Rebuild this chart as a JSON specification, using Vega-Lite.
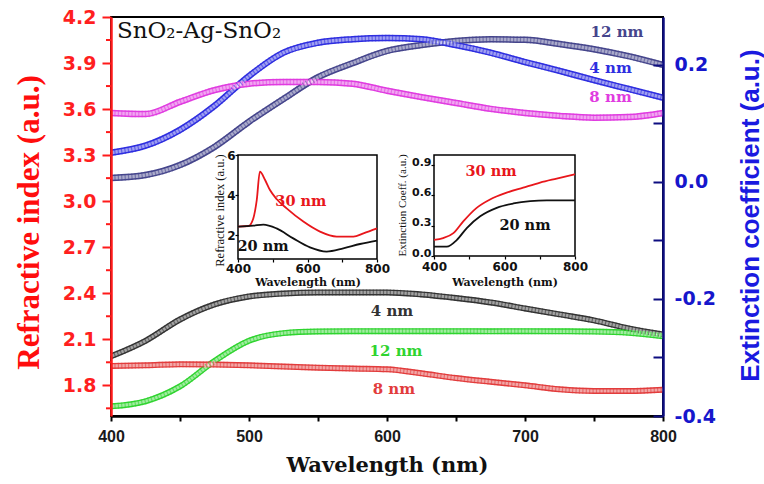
{
  "$schema": "https://vega.github.io/schema/vega-lite/v6.json",
  "width": 552,
  "height": 399,
  "autosize": {"type": "none"},
  "padding": {"left": 111, "top": 17, "right": 101, "bottom": 68},
  "background": "white",
  "config": {
    "view": {"stroke": "#000", "strokeWidth": 2},
    "axis": {"grid": false, "labelOverlap": false, "labelFlush": false}
  },
  "datasets": {
    "ri": [
      {"wl": 400, "n": 1.989, "series": "RI 4 nm"}, {"wl": 425, "n": 2.090, "series": "RI 4 nm"}, {"wl": 450, "n": 2.229, "series": "RI 4 nm"},
      {"wl": 475, "n": 2.327, "series": "RI 4 nm"}, {"wl": 500, "n": 2.379, "series": "RI 4 nm"}, {"wl": 525, "n": 2.398, "series": "RI 4 nm"},
      {"wl": 550, "n": 2.405, "series": "RI 4 nm"}, {"wl": 575, "n": 2.405, "series": "RI 4 nm"}, {"wl": 600, "n": 2.405, "series": "RI 4 nm"},
      {"wl": 625, "n": 2.392, "series": "RI 4 nm"}, {"wl": 650, "n": 2.369, "series": "RI 4 nm"}, {"wl": 675, "n": 2.340, "series": "RI 4 nm"},
      {"wl": 700, "n": 2.301, "series": "RI 4 nm"}, {"wl": 725, "n": 2.262, "series": "RI 4 nm"}, {"wl": 750, "n": 2.223, "series": "RI 4 nm"},
      {"wl": 775, "n": 2.171, "series": "RI 4 nm"}, {"wl": 800, "n": 2.132, "series": "RI 4 nm"},
      {"wl": 400, "n": 1.663, "series": "RI 12 nm"}, {"wl": 425, "n": 1.696, "series": "RI 12 nm"}, {"wl": 450, "n": 1.793, "series": "RI 12 nm"},
      {"wl": 475, "n": 1.958, "series": "RI 12 nm"}, {"wl": 500, "n": 2.090, "series": "RI 12 nm"}, {"wl": 525, "n": 2.140, "series": "RI 12 nm"},
      {"wl": 550, "n": 2.151, "series": "RI 12 nm"}, {"wl": 575, "n": 2.153, "series": "RI 12 nm"}, {"wl": 600, "n": 2.153, "series": "RI 12 nm"},
      {"wl": 625, "n": 2.153, "series": "RI 12 nm"}, {"wl": 650, "n": 2.153, "series": "RI 12 nm"}, {"wl": 675, "n": 2.152, "series": "RI 12 nm"},
      {"wl": 700, "n": 2.153, "series": "RI 12 nm"}, {"wl": 725, "n": 2.152, "series": "RI 12 nm"}, {"wl": 750, "n": 2.150, "series": "RI 12 nm"},
      {"wl": 775, "n": 2.142, "series": "RI 12 nm"}, {"wl": 800, "n": 2.119, "series": "RI 12 nm"},
      {"wl": 400, "n": 1.926, "series": "RI 8 nm"}, {"wl": 425, "n": 1.930, "series": "RI 8 nm"}, {"wl": 450, "n": 1.937, "series": "RI 8 nm"},
      {"wl": 475, "n": 1.935, "series": "RI 8 nm"}, {"wl": 500, "n": 1.930, "series": "RI 8 nm"}, {"wl": 525, "n": 1.922, "series": "RI 8 nm"},
      {"wl": 550, "n": 1.915, "series": "RI 8 nm"}, {"wl": 575, "n": 1.909, "series": "RI 8 nm"}, {"wl": 600, "n": 1.904, "series": "RI 8 nm"},
      {"wl": 625, "n": 1.878, "series": "RI 8 nm"}, {"wl": 650, "n": 1.847, "series": "RI 8 nm"}, {"wl": 675, "n": 1.823, "series": "RI 8 nm"},
      {"wl": 700, "n": 1.800, "series": "RI 8 nm"}, {"wl": 725, "n": 1.774, "series": "RI 8 nm"}, {"wl": 750, "n": 1.763, "series": "RI 8 nm"},
      {"wl": 775, "n": 1.763, "series": "RI 8 nm"}, {"wl": 800, "n": 1.771, "series": "RI 8 nm"}
    ],
    "ext": [
      {"wl": 400, "k": 0.007, "series": "EC 12 nm"}, {"wl": 425, "k": 0.012, "series": "EC 12 nm"}, {"wl": 450, "k": 0.029, "series": "EC 12 nm"},
      {"wl": 475, "k": 0.060, "series": "EC 12 nm"}, {"wl": 500, "k": 0.103, "series": "EC 12 nm"}, {"wl": 525, "k": 0.142, "series": "EC 12 nm"},
      {"wl": 550, "k": 0.179, "series": "EC 12 nm"}, {"wl": 575, "k": 0.203, "series": "EC 12 nm"}, {"wl": 600, "k": 0.224, "series": "EC 12 nm"},
      {"wl": 625, "k": 0.234, "series": "EC 12 nm"}, {"wl": 650, "k": 0.241, "series": "EC 12 nm"}, {"wl": 675, "k": 0.244, "series": "EC 12 nm"},
      {"wl": 700, "k": 0.243, "series": "EC 12 nm"}, {"wl": 725, "k": 0.236, "series": "EC 12 nm"}, {"wl": 750, "k": 0.227, "series": "EC 12 nm"},
      {"wl": 775, "k": 0.215, "series": "EC 12 nm"}, {"wl": 800, "k": 0.200, "series": "EC 12 nm"},
      {"wl": 400, "k": 0.050, "series": "EC 4 nm"}, {"wl": 425, "k": 0.062, "series": "EC 4 nm"}, {"wl": 450, "k": 0.089, "series": "EC 4 nm"},
      {"wl": 475, "k": 0.130, "series": "EC 4 nm"}, {"wl": 500, "k": 0.181, "series": "EC 4 nm"}, {"wl": 525, "k": 0.221, "series": "EC 4 nm"},
      {"wl": 550, "k": 0.238, "series": "EC 4 nm"}, {"wl": 575, "k": 0.244, "series": "EC 4 nm"}, {"wl": 600, "k": 0.246, "series": "EC 4 nm"},
      {"wl": 625, "k": 0.244, "series": "EC 4 nm"}, {"wl": 650, "k": 0.234, "series": "EC 4 nm"}, {"wl": 675, "k": 0.221, "series": "EC 4 nm"},
      {"wl": 700, "k": 0.205, "series": "EC 4 nm"}, {"wl": 725, "k": 0.190, "series": "EC 4 nm"}, {"wl": 750, "k": 0.174, "series": "EC 4 nm"},
      {"wl": 775, "k": 0.159, "series": "EC 4 nm"}, {"wl": 800, "k": 0.144, "series": "EC 4 nm"},
      {"wl": 400, "k": 0.118, "series": "EC 8 nm"}, {"wl": 425, "k": 0.116, "series": "EC 8 nm"}, {"wl": 450, "k": 0.137, "series": "EC 8 nm"},
      {"wl": 475, "k": 0.157, "series": "EC 8 nm"}, {"wl": 500, "k": 0.168, "series": "EC 8 nm"}, {"wl": 525, "k": 0.171, "series": "EC 8 nm"},
      {"wl": 550, "k": 0.171, "series": "EC 8 nm"}, {"wl": 575, "k": 0.168, "series": "EC 8 nm"}, {"wl": 600, "k": 0.156, "series": "EC 8 nm"},
      {"wl": 625, "k": 0.145, "series": "EC 8 nm"}, {"wl": 650, "k": 0.135, "series": "EC 8 nm"}, {"wl": 675, "k": 0.125, "series": "EC 8 nm"},
      {"wl": 700, "k": 0.118, "series": "EC 8 nm"}, {"wl": 725, "k": 0.113, "series": "EC 8 nm"}, {"wl": 750, "k": 0.110, "series": "EC 8 nm"},
      {"wl": 775, "k": 0.111, "series": "EC 8 nm"}, {"wl": 800, "k": 0.118, "series": "EC 8 nm"}
    ],
    "ri_minor": [
      {"n": 1.65}, {"n": 1.95}, {"n": 2.25}, {"n": 2.55}, {"n": 2.85}, {"n": 3.15}, {"n": 3.45}, {"n": 3.75}, {"n": 4.05}
    ],
    "ri_labels": [
      {"wl": 603.6, "n": 2.281, "series": "RI 4 nm", "thickness": "4 nm"},
      {"wl": 606.5, "n": 2.021, "series": "RI 12 nm", "thickness": "12 nm"},
      {"wl": 605, "n": 1.774, "series": "RI 8 nm", "thickness": "8 nm"}
    ],
    "ext_labels": [
      {"wl": 766.7, "k": 0.256, "series": "EC 12 nm", "thickness": "12 nm"},
      {"wl": 762, "k": 0.195, "series": "EC 4 nm", "thickness": "4 nm"},
      {"wl": 762, "k": 0.145, "series": "EC 8 nm", "thickness": "8 nm"}
    ],
    "inset_n": [
      {"wl": 400, "v": 2.42, "film": "30 nm"}, {"wl": 430, "v": 2.45, "film": "30 nm"}, {"wl": 444, "v": 2.83, "film": "30 nm"},
      {"wl": 454, "v": 3.75, "film": "30 nm"}, {"wl": 463, "v": 5.17, "film": "30 nm"}, {"wl": 478, "v": 4.75, "film": "30 nm"},
      {"wl": 492, "v": 4.25, "film": "30 nm"}, {"wl": 511, "v": 3.8, "film": "30 nm"}, {"wl": 540, "v": 3.33, "film": "30 nm"},
      {"wl": 588, "v": 2.67, "film": "30 nm"}, {"wl": 636, "v": 2.17, "film": "30 nm"}, {"wl": 684, "v": 1.92, "film": "30 nm"},
      {"wl": 732, "v": 1.92, "film": "30 nm"}, {"wl": 761, "v": 2.08, "film": "30 nm"}, {"wl": 800, "v": 2.33, "film": "30 nm"},
      {"wl": 400, "v": 2.42, "film": "20 nm"}, {"wl": 444, "v": 2.47, "film": "20 nm"}, {"wl": 473, "v": 2.52, "film": "20 nm"},
      {"wl": 511, "v": 2.33, "film": "20 nm"}, {"wl": 559, "v": 1.83, "film": "20 nm"}, {"wl": 607, "v": 1.38, "film": "20 nm"},
      {"wl": 655, "v": 1.17, "film": "20 nm"}, {"wl": 703, "v": 1.33, "film": "20 nm"}, {"wl": 751, "v": 1.55, "film": "20 nm"},
      {"wl": 800, "v": 1.72, "film": "20 nm"}
    ],
    "inset_k": [
      {"wl": 400, "v": 0.16, "film": "30 nm"}, {"wl": 426, "v": 0.177, "film": "30 nm"}, {"wl": 455, "v": 0.227, "film": "30 nm"},
      {"wl": 483, "v": 0.343, "film": "30 nm"}, {"wl": 521, "v": 0.477, "film": "30 nm"}, {"wl": 559, "v": 0.56, "film": "30 nm"},
      {"wl": 606, "v": 0.627, "film": "30 nm"}, {"wl": 653, "v": 0.677, "film": "30 nm"}, {"wl": 701, "v": 0.727, "film": "30 nm"},
      {"wl": 748, "v": 0.767, "film": "30 nm"}, {"wl": 800, "v": 0.81, "film": "30 nm"},
      {"wl": 400, "v": 0.093, "film": "20 nm"}, {"wl": 436, "v": 0.093, "film": "20 nm"}, {"wl": 465, "v": 0.16, "film": "20 nm"},
      {"wl": 493, "v": 0.277, "film": "20 nm"}, {"wl": 531, "v": 0.393, "film": "20 nm"}, {"wl": 578, "v": 0.477, "film": "20 nm"},
      {"wl": 625, "v": 0.52, "film": "20 nm"}, {"wl": 673, "v": 0.543, "film": "20 nm"}, {"wl": 720, "v": 0.55, "film": "20 nm"},
      {"wl": 800, "v": 0.55, "film": "20 nm"}
    ],
    "inset_n_labels": [
      {"wl": 581, "v": 3.65, "film": "30 nm"},
      {"wl": 472, "v": 1.4, "film": "20 nm"}
    ],
    "inset_k_labels": [
      {"wl": 561.7, "v": 0.83, "film": "30 nm"},
      {"wl": 658, "v": 0.297, "film": "20 nm"}
    ]
  },
  "layer": [
    {
      "layer": [
        {
          "data": {"name": "ri"},
          "mark": {"type": "line", "strokeWidth": 6, "interpolate": "monotone"},
          "encoding": {
            "x": {
              "field": "wl", "type": "quantitative",
              "scale": {"domain": [400, 800], "nice": false},
              "axis": {
                "orient": "bottom", "title": "Wavelength (nm)",
                "values": [400, 450, 500, 550, 600, 650, 700, 750, 800],
                "labelExpr": "datum.value % 100 == 0 ? datum.label : ''",
                "tickSize": 5, "tickWidth": 2, "tickColor": "#000",
                "domainColor": "#000", "domainWidth": 2.5,
                "labelPadding": 7, "labelBaseline": "top",
                "labelFont": "Liberation Sans", "labelFontWeight": "bold", "labelFontSize": 16, "labelColor": "#1a1a1a",
                "titleFont": "DejaVu Serif", "titleFontWeight": "bold", "titleFontSize": 21, "titleColor": "#111",
                "titleY": 55, "titleBaseline": "alphabetic", "zindex": 1
              }
            },
            "y": {
              "field": "n", "type": "quantitative",
              "scale": {"domain": [1.6, 4.2], "nice": false, "zero": false},
              "axis": {
                "orient": "left", "title": "Refractive index (a.u.)",
                "values": [1.8, 2.1, 2.4, 2.7, 3.0, 3.3, 3.6, 3.9, 4.2],
                "format": ".1f",
                "tickSize": 9, "tickWidth": 2, "tickColor": "#ff1a1a",
                "domainColor": "#ff1a1a", "domainWidth": 2.5,
                "labelPadding": 6,
                "labelFont": "DejaVu Sans", "labelFontWeight": "bold", "labelFontSize": 19, "labelColor": "#ff1f1f",
                "titleFont": "Liberation Serif", "titleFontWeight": "bold", "titleFontSize": 31, "titleColor": "#ff0d0d",
                "titleAngle": -90, "titleX": -82, "titleY": 205, "titleAlign": "center", "titleBaseline": "middle",
                "zindex": 1
              }
            },
            "color": {
              "field": "series", "type": "nominal", "legend": null,
              "scale": {
                "domain": ["RI 4 nm", "RI 8 nm", "RI 12 nm", "EC 4 nm", "EC 8 nm", "EC 12 nm"],
                "range": ["#333333", "#e23c3c", "#2fd42f", "#2e2ee0", "#e03ce0", "#45458c"]
              }
            }
          }
        },
        {
          "data": {"name": "ri"},
          "mark": {"type": "line", "strokeWidth": 3.2, "interpolate": "monotone", "color": "#ffffff", "opacity": 0.55},
          "encoding": {
            "x": {"field": "wl", "type": "quantitative"},
            "y": {"field": "n", "type": "quantitative"},
            "detail": {"field": "series"}
          }
        },
        {
          "data": {"name": "ri"},
          "mark": {"type": "line", "strokeWidth": 6, "interpolate": "monotone", "strokeDash": [1.2, 2.2], "opacity": 0.55},
          "encoding": {
            "x": {"field": "wl", "type": "quantitative"},
            "y": {"field": "n", "type": "quantitative"},
            "color": {"field": "series", "type": "nominal", "legend": null}
          }
        },
        {
          "data": {"name": "ri_minor"},
          "mark": {"type": "rule", "color": "#ff1a1a", "strokeWidth": 2, "x2Offset": -5},
          "encoding": {
            "x": {"datum": 400},
            "x2": {"datum": 400},
            "y": {"field": "n", "type": "quantitative"}
          }
        },
        {
          "data": {"name": "ri_labels"},
          "mark": {"type": "text", "font": "DejaVu Serif", "fontWeight": "bold", "fontSize": 15},
          "encoding": {
            "x": {"field": "wl", "type": "quantitative"},
            "y": {"field": "n", "type": "quantitative"},
            "text": {"field": "thickness"},
            "color": {"field": "series", "type": "nominal", "legend": null}
          }
        },
        {
          "data": {"values": [{"name": "SnO₂-Ag-SnO₂"}]},
          "mark": {"type": "text", "font": "DejaVu Serif", "fontSize": 23, "align": "left", "baseline": "alphabetic", "color": "#111"},
          "encoding": {
            "x": {"datum": 404.3},
            "y": {"datum": 4.063},
            "text": {"field": "name"}
          }
        },
        {
          "mark": {"type": "rule", "color": "#ff1a1a", "strokeWidth": 3.5},
          "encoding": {"x": {"datum": 400}, "x2": {"datum": 418}, "y": {"datum": 2.242}}
        },
        {
          "mark": {"type": "point", "shape": "M-1,-0.55L1,0L-1,0.55Z", "filled": true, "color": "#ff1a1a", "size": 625, "opacity": 1},
          "encoding": {"x": {"datum": 425}, "y": {"datum": 2.242}}
        },
        {
          "mark": {"type": "point", "shape": "circle", "filled": true, "color": "#ff1a1a", "size": 55, "opacity": 1},
          "encoding": {"x": {"datum": 400}, "y": {"datum": 2.242}}
        }
      ]
    },
    {
      "layer": [
        {
          "data": {"name": "ext"},
          "mark": {"type": "line", "strokeWidth": 6.5, "interpolate": "monotone"},
          "encoding": {
            "x": {"field": "wl", "type": "quantitative", "scale": {"domain": [400, 800], "nice": false}, "axis": null},
            "y": {
              "field": "k", "type": "quantitative",
              "scale": {"domain": [-0.4, 0.282], "nice": false, "zero": false},
              "axis": {
                "orient": "right", "title": "Extinction coefficient (a.u.)",
                "values": [-0.4, -0.3, -0.2, -0.1, 0, 0.1, 0.2],
                "labelExpr": "abs(round(datum.value*10)) % 2 == 0 ? (datum.value < -0.001 ? '-' : '') + format(abs(datum.value), '.1f') : ''",
                "tickSize": -10, "tickWidth": 2, "tickColor": "#0d0d80",
                "domainColor": "#0d0d80", "domainWidth": 2.5,
                "labelPadding": 21,
                "labelFont": "DejaVu Sans", "labelFontWeight": "bold", "labelFontSize": 19, "labelColor": "#1616cc",
                "titleFont": "Liberation Sans", "titleFontWeight": "bold", "titleFontSize": 26, "titleColor": "#1a1ae0",
                "titleAngle": -90, "titleX": 87, "titleY": 198, "titleAlign": "center", "titleBaseline": "middle",
                "zindex": 1
              }
            },
            "color": {"field": "series", "type": "nominal", "legend": null}
          }
        },
        {
          "data": {"name": "ext"},
          "mark": {"type": "line", "strokeWidth": 3.5, "interpolate": "monotone", "color": "#ffffff", "opacity": 0.55},
          "encoding": {
            "x": {"field": "wl", "type": "quantitative"},
            "y": {"field": "k", "type": "quantitative"},
            "detail": {"field": "series"}
          }
        },
        {
          "data": {"name": "ext"},
          "mark": {"type": "line", "strokeWidth": 6.5, "interpolate": "monotone", "strokeDash": [1.2, 2.2], "opacity": 0.55},
          "encoding": {
            "x": {"field": "wl", "type": "quantitative"},
            "y": {"field": "k", "type": "quantitative"},
            "color": {"field": "series", "type": "nominal", "legend": null}
          }
        },
        {
          "data": {"name": "ext_labels"},
          "mark": {"type": "text", "font": "DejaVu Serif", "fontWeight": "bold", "fontSize": 15},
          "encoding": {
            "x": {"field": "wl", "type": "quantitative"},
            "y": {"field": "k", "type": "quantitative"},
            "text": {"field": "thickness"},
            "color": {"field": "series", "type": "nominal", "legend": null}
          }
        },
        {
          "mark": {"type": "rule", "color": "#1a1ae6", "strokeWidth": 3.5},
          "encoding": {"x": {"datum": 780}, "x2": {"datum": 800}, "y": {"datum": 0.077}}
        },
        {
          "mark": {"type": "point", "shape": "M1,-0.55L-1,0L1,0.55Z", "filled": true, "color": "#1a1ae6", "size": 625, "opacity": 1},
          "encoding": {"x": {"datum": 777}, "y": {"datum": 0.077}}
        },
        {
          "mark": {"type": "point", "shape": "circle", "filled": true, "color": "#1a1ae6", "size": 55, "opacity": 1},
          "encoding": {"x": {"datum": 800}, "y": {"datum": 0.077}}
        }
      ]
    },
    {
      "layer": [
        {
          "data": {"values": [{}]},
          "mark": {"type": "rect", "fill": "#ffffff", "stroke": "#000", "strokeWidth": 1.5},
          "encoding": {
            "x": {"datum": 400, "type": "quantitative", "scale": {"domain": [400, 800], "range": [127, 266], "nice": false}},
            "x2": {"datum": 800},
            "y": {"datum": 0.8, "type": "quantitative", "scale": {"domain": [0.8, 6], "range": [242, 138], "nice": false, "zero": false}},
            "y2": {"datum": 6}
          }
        },
        {
          "data": {"name": "inset_n"},
          "mark": {"type": "line", "strokeWidth": 1.8, "interpolate": "monotone"},
          "encoding": {
            "x": {
              "field": "wl", "type": "quantitative",
              "scale": {"domain": [400, 800], "range": [127, 266], "nice": false},
              "axis": {
                "orient": "bottom", "offset": -157, "values": [400, 500, 600, 700, 800],
                "labelExpr": "datum.value % 200 == 0 ? datum.label : ''",
                "domain": false, "tickSize": 3, "tickWidth": 1.2, "tickColor": "#000",
                "labelPadding": 1, "labelBaseline": "top",
                "labelFont": "DejaVu Sans", "labelFontWeight": "bold", "labelFontSize": 12, "labelColor": "#111",
                "title": "Wavelength (nm)", "titleFont": "DejaVu Serif", "titleFontWeight": "bold", "titleFontSize": 11,
                "titleColor": "#111", "titleY": 26, "titleBaseline": "alphabetic", "zindex": 1
              }
            },
            "y": {
              "field": "v", "type": "quantitative",
              "scale": {"domain": [0.8, 6], "range": [242, 138], "nice": false, "zero": false},
              "axis": {
                "orient": "left", "offset": -127, "values": [2, 4, 6],
                "format": "d",
                "domain": false, "tickSize": 3, "tickWidth": 1.2, "tickColor": "#000",
                "labelPadding": 0,
                "labelFont": "DejaVu Sans", "labelFontWeight": "bold", "labelFontSize": 12, "labelColor": "#111",
                "title": "Refractive index (a.u.)", "titleFont": "Liberation Serif", "titleFontWeight": "normal",
                "titleFontSize": 12.5, "titleColor": "#111",
                "titleAngle": -90, "titleX": -19, "titleY": 193, "titleAlign": "center", "titleBaseline": "middle",
                "zindex": 1
              }
            },
            "stroke": {"field": "film", "type": "nominal", "legend": null, "scale": {"domain": ["20 nm", "30 nm"], "range": ["#111111", "#e8161b"]}}
          }
        },
        {
          "data": {"name": "inset_n_labels"},
          "mark": {"type": "text", "font": "DejaVu Serif", "fontWeight": "bold", "fontSize": 14.5},
          "encoding": {
            "x": {"field": "wl", "type": "quantitative"},
            "y": {"field": "v", "type": "quantitative"},
            "text": {"field": "film"},
            "fill": {"field": "film", "type": "nominal", "legend": null, "scale": {"domain": ["20 nm", "30 nm"], "range": ["#111111", "#e8161b"]}}
          }
        }
      ]
    },
    {
      "layer": [
        {
          "data": {"values": [{}]},
          "mark": {"type": "rect", "fill": "#ffffff", "stroke": "#000", "strokeWidth": 1.5},
          "encoding": {
            "x": {"datum": 400, "type": "quantitative", "scale": {"domain": [400, 800], "range": [323, 464], "nice": false}},
            "x2": {"datum": 800},
            "y": {"datum": 0, "type": "quantitative", "scale": {"domain": [0, 1], "range": [239, 138], "nice": false, "zero": false}},
            "y2": {"datum": 1}
          }
        },
        {
          "data": {"name": "inset_k"},
          "mark": {"type": "line", "strokeWidth": 1.8, "interpolate": "monotone"},
          "encoding": {
            "x": {
              "field": "wl", "type": "quantitative",
              "scale": {"domain": [400, 800], "range": [323, 464], "nice": false},
              "axis": {
                "orient": "bottom", "offset": -160, "values": [400, 500, 600, 700, 800],
                "labelExpr": "datum.value % 200 == 0 ? datum.label : ''",
                "domain": false, "tickSize": 3, "tickWidth": 1.2, "tickColor": "#000",
                "labelPadding": 2, "labelBaseline": "top",
                "labelFont": "DejaVu Sans", "labelFontWeight": "bold", "labelFontSize": 12, "labelColor": "#111",
                "title": "Wavelength (nm)", "titleFont": "DejaVu Serif", "titleFontWeight": "bold", "titleFontSize": 11,
                "titleColor": "#111", "titleY": 29, "titleBaseline": "alphabetic", "zindex": 1
              }
            },
            "y": {
              "field": "v", "type": "quantitative",
              "scale": {"domain": [0, 1], "range": [239, 138], "nice": false, "zero": false},
              "axis": {
                "orient": "left", "offset": -323, "values": [0, 0.3, 0.6, 0.9],
                "format": ".1f",
                "domain": false, "tickSize": 3, "tickWidth": 1.2, "tickColor": "#000",
                "labelPadding": 0, "labelOffset": -3,
                "labelFont": "DejaVu Sans", "labelFontWeight": "bold", "labelFontSize": 11, "labelColor": "#111",
                "title": "Extinction Coeff. (a.u.)", "titleFont": "Liberation Serif", "titleFontWeight": "normal",
                "titleFontSize": 11, "titleColor": "#111",
                "titleAngle": -90, "titleX": -32, "titleY": 188, "titleAlign": "center", "titleBaseline": "middle",
                "zindex": 1
              }
            },
            "stroke": {"field": "film", "type": "nominal", "legend": null, "scale": {"domain": ["20 nm", "30 nm"], "range": ["#111111", "#e8161b"]}}
          }
        },
        {
          "data": {"name": "inset_k_labels"},
          "mark": {"type": "text", "font": "DejaVu Serif", "fontWeight": "bold", "fontSize": 14.5},
          "encoding": {
            "x": {"field": "wl", "type": "quantitative"},
            "y": {"field": "v", "type": "quantitative"},
            "text": {"field": "film"},
            "fill": {"field": "film", "type": "nominal", "legend": null, "scale": {"domain": ["20 nm", "30 nm"], "range": ["#111111", "#e8161b"]}}
          }
        }
      ]
    }
  ],
  "resolve": {"scale": {"x": "independent", "y": "independent"}}
}
